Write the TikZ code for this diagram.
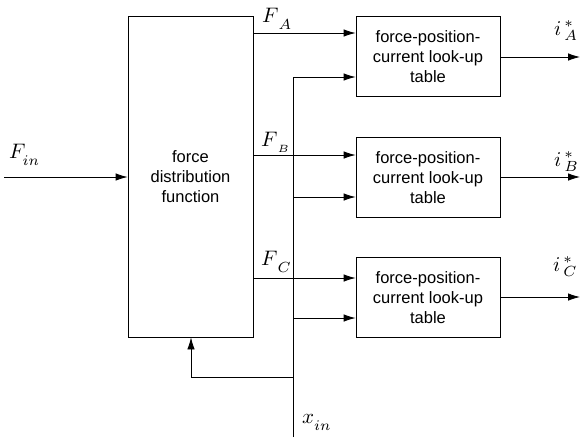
\documentclass[tikz,border=0pt]{standalone}
\usepackage{fontspec}
\usepackage{graphicx}
\newfontfamily\arial{Liberation Sans}
\usetikzlibrary{arrows.meta}
\newcommand{\biglbl}[1]{\scalebox{2.1}{$#1$}}
\newcommand{\lsub}[1]{\lower2pt\hbox{$\scriptstyle #1$}}
\newcommand{\lssub}[1]{\lower1.5pt\hbox{$\scriptscriptstyle #1$}}
\begin{document}
\begin{tikzpicture}[x=1pt,y=-1pt,
  blk/.style={draw,line width=0.8pt,inner sep=0pt,align=center,
    font=\arial\fontsize{16.5}{20}\selectfont},
  arr/.style={line width=0.8pt,-{Latex[length=12pt,width=7.5pt]}},
  ln/.style={line width=0.8pt},
  lbl/.style={anchor=base west,inner sep=0pt}]
\useasboundingbox (0,0) rectangle (580,437);
\node[blk,minimum width=125pt,minimum height=321pt] (fdf) at (190.5,176.5)
  {force\\distribution\\function};
\node[blk,minimum width=144pt,minimum height=80pt] (ta) at (428,56.5)
  {force-position-\\current look-up\\table};
\node[blk,minimum width=144pt,minimum height=80pt] (tb) at (428,177.5)
  {force-position-\\current look-up\\table};
\node[blk,minimum width=144pt,minimum height=80pt] (tc) at (428,297.5)
  {force-position-\\current look-up\\table};
\coordinate (fin) at (4,177);
\coordinate (xb) at (293,437);
\coordinate (xt) at (293,77);
\coordinate (oa) at (580,57);
\coordinate (ob) at (580,177);
\coordinate (oc) at (580,297);
\coordinate (fb) at (191,377);
% input
\draw[arr] (fin) -- (fin -| fdf.west);
% force outputs
\draw[arr] (fdf.east |- 0,33) -- (ta.west |- 0,33);
\draw[arr] (fdf.east |- 0,155) -- (tb.west |- 0,155);
\draw[arr] (fdf.east |- 0,278) -- (tc.west |- 0,278);
% position line
\draw[ln] (xb) -- (xt);
\draw[arr] (xt) -- (ta.west |- xt);
\draw[arr] (293,197) -- (tb.west |- 0,197);
\draw[arr] (293,318) -- (tc.west |- 0,318);
\draw[arr] (293,377) -- (fb) -- (fb |- fdf.south);
% outputs
\draw[arr] (ta.east |- oa) -- (oa);
\draw[arr] (tb.east |- ob) -- (ob);
\draw[arr] (tc.east |- oc) -- (oc);
% labels
\node[lbl] (lfa) at (262,22) {\biglbl{F_{\,\lsub{A}}}};
\node[lbl] (lfb) at (261,146) {\biglbl{F_{\,\lssub{B}}}};
\node[lbl] (lfc) at (261,265) {\biglbl{F_{\,\lsub{C}}}};
\node[lbl] (lfin) at (9,158) {\biglbl{F_{\lsub{in}}}};
\node[lbl] (lia) at (554,35) {\biglbl{i^{\,*}_{\,A}}};
\node[lbl] (lib) at (554,166) {\biglbl{i^{\,*}_{\,B}}};
\node[lbl] (lic) at (553,271) {\biglbl{i^{\,*}_{\,C}}};
\node[lbl] (lxin) at (302,423) {\biglbl{x_{\lsub{in}}}};
\end{tikzpicture}
\end{document}
